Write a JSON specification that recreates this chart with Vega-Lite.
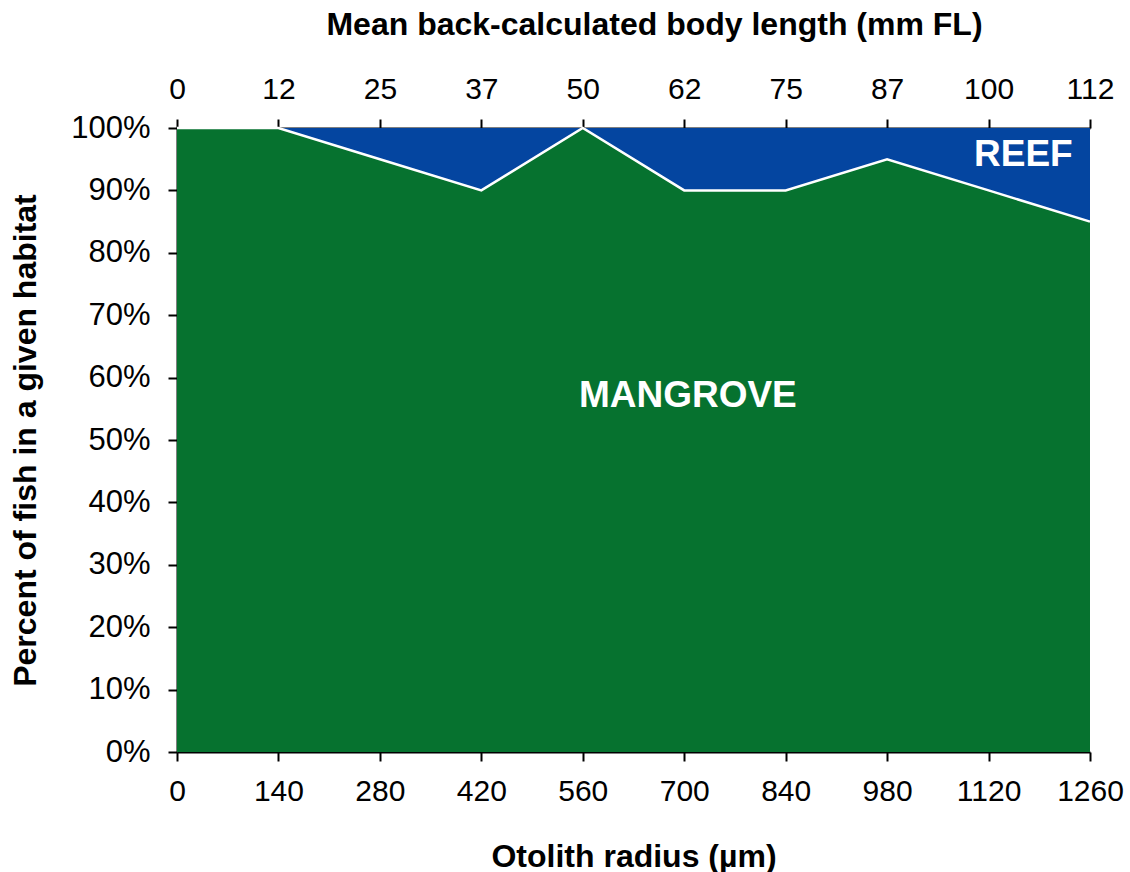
{
  "$schema": "https://vega.github.io/schema/vega-lite/v6.json",
  "width": 913,
  "height": 624,
  "autosize": "none",
  "padding": {"left": 177, "top": 128, "right": 40, "bottom": 120},
  "background": "white",
  "config": {
    "font": "Liberation Sans",
    "view": {"stroke": null},
    "axis": {
      "grid": false,
      "domainColor": "black",
      "domainWidth": 2,
      "tickColor": "black",
      "tickWidth": 2,
      "tickSize": 9,
      "labelFont": "Liberation Sans",
      "labelFontSize": 30,
      "labelColor": "black",
      "titleFont": "Liberation Sans",
      "titleFontSize": 32,
      "titleFontWeight": "bold",
      "titleColor": "black"
    }
  },
  "datasets": {
    "habitat": [
      {"radius": 0, "habitat": "MANGROVE", "percent": 100},
      {"radius": 140, "habitat": "MANGROVE", "percent": 100},
      {"radius": 280, "habitat": "MANGROVE", "percent": 95},
      {"radius": 420, "habitat": "MANGROVE", "percent": 90},
      {"radius": 560, "habitat": "MANGROVE", "percent": 100},
      {"radius": 700, "habitat": "MANGROVE", "percent": 90},
      {"radius": 840, "habitat": "MANGROVE", "percent": 90},
      {"radius": 980, "habitat": "MANGROVE", "percent": 95},
      {"radius": 1120, "habitat": "MANGROVE", "percent": 90},
      {"radius": 1260, "habitat": "MANGROVE", "percent": 85},
      {"radius": 0, "habitat": "REEF", "percent": 0},
      {"radius": 140, "habitat": "REEF", "percent": 0},
      {"radius": 280, "habitat": "REEF", "percent": 5},
      {"radius": 420, "habitat": "REEF", "percent": 10},
      {"radius": 560, "habitat": "REEF", "percent": 0},
      {"radius": 700, "habitat": "REEF", "percent": 10},
      {"radius": 840, "habitat": "REEF", "percent": 10},
      {"radius": 980, "habitat": "REEF", "percent": 5},
      {"radius": 1120, "habitat": "REEF", "percent": 10},
      {"radius": 1260, "habitat": "REEF", "percent": 15}
    ],
    "labels": [
      {"radius": 705, "percent": 57, "label": "MANGROVE"},
      {"radius": 1168, "percent": 95.7, "label": "REEF"}
    ]
  },
  "layer": [
    {
      "data": {"name": "habitat"},
      "mark": {"type": "area", "interpolate": "linear"},
      "encoding": {
        "x": {
          "field": "radius", "type": "quantitative",
          "scale": {"domain": [0, 1260], "nice": false, "zero": false},
          "axis": {
            "orient": "bottom",
            "values": [0, 140, 280, 420, 560, 700, 840, 980, 1120, 1260],
            "format": "d",
            "title": "Otolith radius (µm)",
            "labelPadding": 15,
            "titlePadding": 35,
            "labelFlush": false
          }
        },
        "y": {
          "field": "percent", "type": "quantitative", "stack": "zero",
          "scale": {"domain": [0, 100], "nice": false},
          "axis": {
            "values": [0, 10, 20, 30, 40, 50, 60, 70, 80, 90, 100],
            "labelExpr": "datum.value + '%'",
            "title": "Percent of fish in a given habitat",
            "labelFontSize": 31,
            "labelPadding": 18,
            "titlePadding": 28
          }
        },
        "color": {
          "field": "habitat", "type": "nominal",
          "scale": {"domain": ["MANGROVE", "REEF"], "range": ["#06722F", "#0445A0"]},
          "legend": null
        },
        "order": {"field": "habitat", "sort": "ascending"}
      }
    },
    {
      "data": {"name": "habitat"},
      "transform": [{"filter": "datum.habitat === 'MANGROVE'"}],
      "mark": {"type": "line", "color": "white", "strokeWidth": 2.5},
      "encoding": {
        "x": {
          "field": "radius", "type": "quantitative",
          "axis": {
            "orient": "top",
            "values": [0, 140, 280, 420, 560, 700, 840, 980, 1120, 1260],
            "labelExpr": "round(datum.value / 1260 * 112)",
            "title": "Mean back-calculated body length (mm FL)",
            "titleX": 477,
            "labelPadding": 15,
            "titlePadding": 33,
            "labelFlush": false
          }
        },
        "y": {"field": "percent", "type": "quantitative"}
      }
    },
    {
      "data": {"name": "labels"},
      "mark": {"type": "text", "color": "white", "fontWeight": "bold", "fontSize": 37, "font": "Liberation Sans", "align": "center", "baseline": "middle"},
      "encoding": {
        "x": {"field": "radius", "type": "quantitative", "axis": null},
        "y": {"field": "percent", "type": "quantitative"},
        "text": {"field": "label"}
      }
    }
  ],
  "resolve": {"axis": {"x": "independent"}}
}
